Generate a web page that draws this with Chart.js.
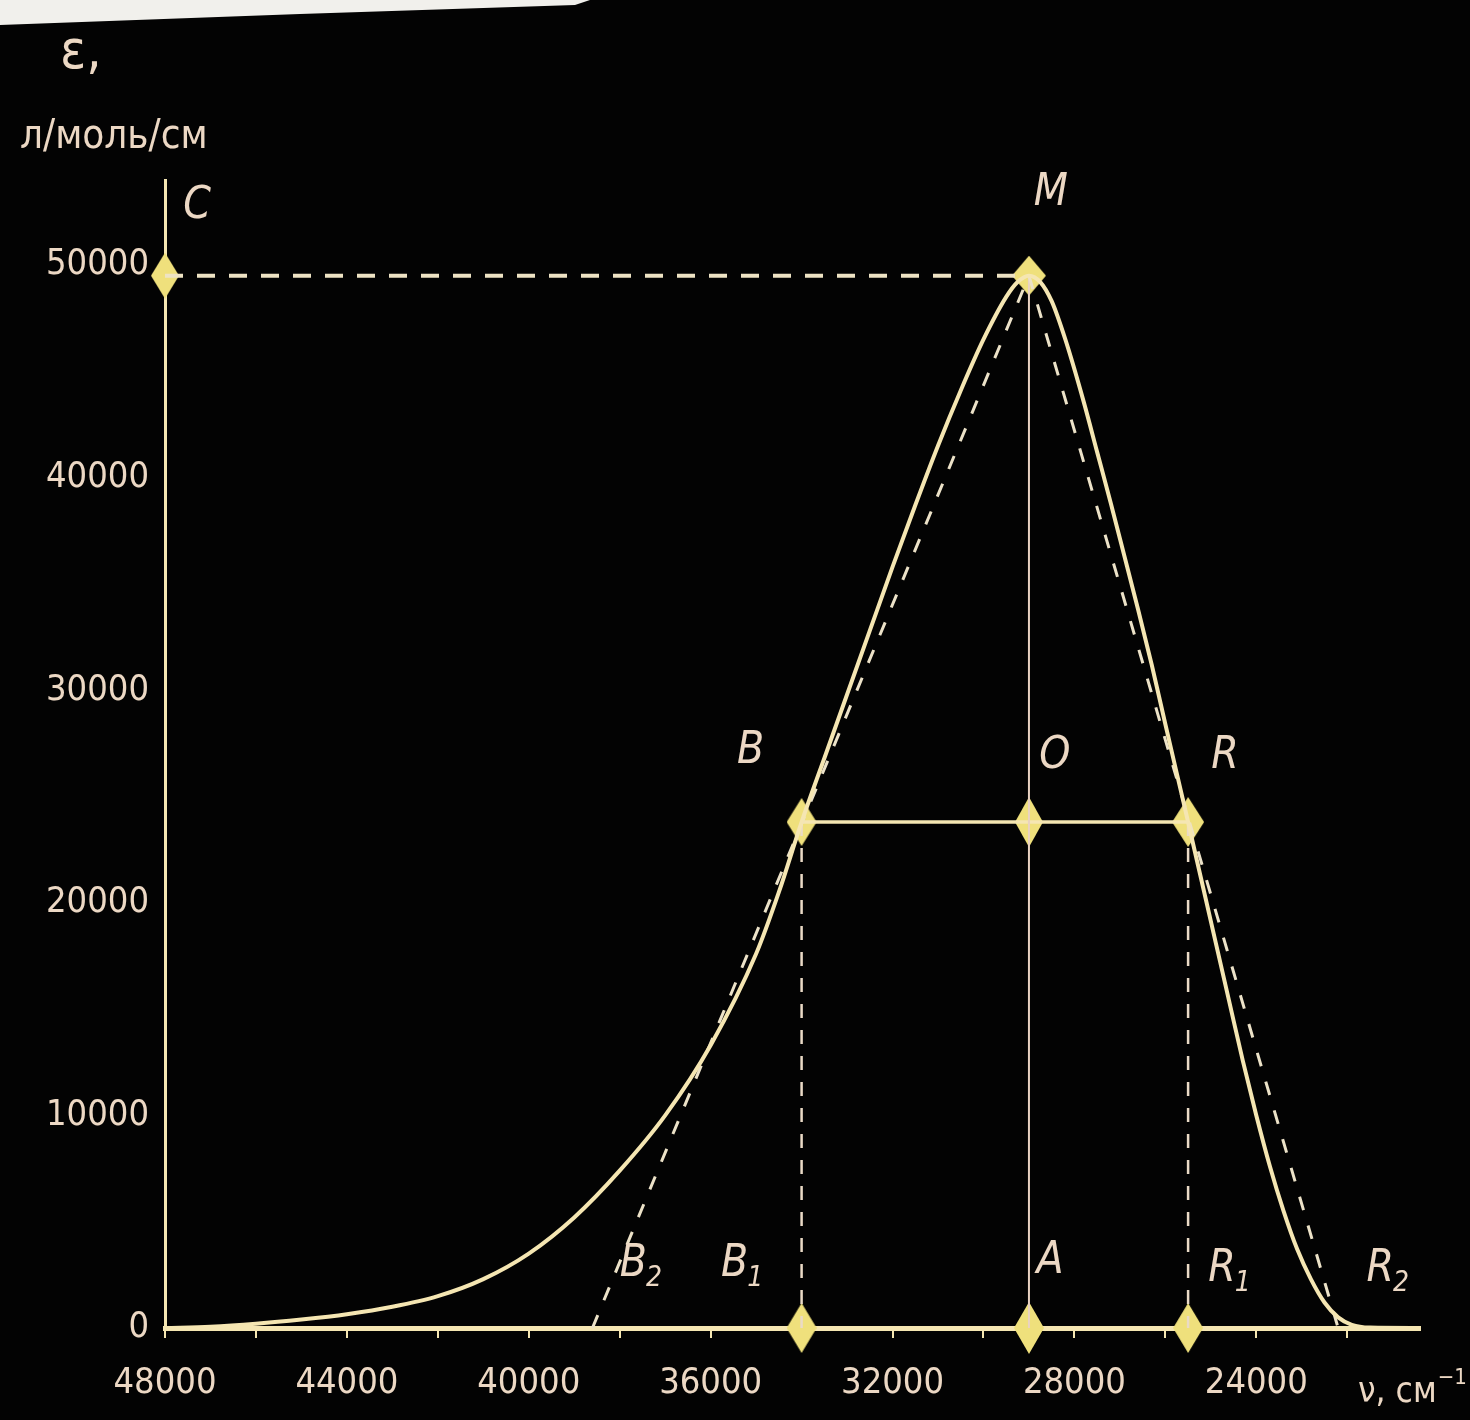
<!DOCTYPE html>
<html><head><meta charset="utf-8">
<script src="https://cdn.jsdelivr.net/npm/chart.js@4.4.1/dist/chart.umd.min.js"></script>
<style>html,body{margin:0;padding:0;background:#030303;}#wrap{width:1470px;height:1420px;}</style>
</head><body><div id="wrap"><canvas id="c" width="1470" height="1420"></canvas></div>
<script>
// ---- data (wavenumber ν, cm^-1 ; molar absorptivity ε, l/mol/cm) ----
const nuSolid  = [48000, 47000, 46000, 45000, 44000, 43000, 42000, 41000, 40000, 39000, 38000, 37000, 36000, 35000, 34500, 34000, 33500, 33000, 32500, 32000, 31500, 31000, 30500, 30000, 29500, 29250, 29000, 28750, 28500, 28200, 27800, 27500, 27200, 26900, 26600, 26300, 26000, 25750, 25500, 25200, 24900, 24600, 24300, 24000, 23700, 23400, 23100, 22800, 22500, 22200, 21900, 21500, 20400];
const epsSolid = [0, 60, 200, 400, 650, 1000, 1500, 2300, 3500, 5200, 7400, 10000, 13300, 17600, 20500, 23800, 26800, 29800, 32800, 35800, 38700, 41500, 44100, 46500, 48500, 49200, 49500, 49200, 48300, 46500, 43600, 41200, 38800, 36300, 33800, 31200, 28400, 26100, 23800, 21000, 18200, 15400, 12600, 10000, 7600, 5500, 3700, 2300, 1200, 500, 150, 20, 0];
const nuTriLeft = [38600, 29000];  const epsTriLeft = [0, 49500];
const nuTriRight = [29000, 22200]; const epsTriRight = [49500, 0];
const nuMaxLine = [48000, 29000];  const epsMaxLine = [49500, 49500];
const nuHalf = [34000, 25500];     const epsHalf = [23800, 23800];
const nuCenter = [29000, 29000];   const epsCenter = [49500, 0];
const nuBdrop = [34000, 34000];    const epsBdrop = [23800, 0];
const nuRdrop = [25500, 25500];    const epsRdrop = [23800, 0];
const pointNames = ['C', 'M', 'B', 'O', 'R', 'B1', 'A', 'R1'];
const pointNu  = [48000, 29000, 34000, 29000, 25500, 34000, 29000, 25500];
const pointEps = [49500, 49500, 23800, 23800, 23800, 0, 0, 0];
const xTickValues = [48000, 46000, 44000, 42000, 40000, 38000, 36000, 34000, 32000, 30000, 28000, 26000, 24000, 22000];
const xTickLabels = [48000, 44000, 40000, 36000, 32000, 28000, 24000];
const yTickLabels = [0, 10000, 20000, 30000, 40000, 50000];

const CREAM = '#f5e6b2', TEXT = '#ecd8c4', DIA = '#efe07c';
const NARROW = '"Liberation Sans Narrow", "DejaVu Sans Condensed", "Roboto Condensed", "Liberation Sans", sans-serif';
const pts = (xs, ys) => xs.map((x, i) => ({x: x, y: ys[i]}));

function rhombus(w, h) {
  const c = document.createElement('canvas'); c.width = w; c.height = h;
  const g = c.getContext('2d');
  g.beginPath(); g.moveTo(w/2, 0); g.lineTo(w, h/2); g.lineTo(w/2, h); g.lineTo(0, h/2); g.closePath();
  g.fillStyle = DIA; g.fill();
  return c;
}
const dSizes = {C:[28,46], M:[34,40], B:[30,48], O:[28,50], R:[32,50], B1:[30,50], A:[30,52], R1:[30,50]};
const pointImgs = pointNames.map(n => rhombus(dSizes[n][0], dSizes[n][1]));

const labelDefs = [
  {t:'C', s:'', nu:pointNu[0], e:pointEps[0], dx:32, dy:-69},
  {t:'M', s:'', nu:pointNu[1], e:pointEps[1], dx:22, dy:-82},
  {t:'B', s:'', nu:pointNu[2], e:pointEps[2], dx:-51, dy:-70},
  {t:'O', s:'', nu:pointNu[3], e:pointEps[3], dx:26, dy:-65},
  {t:'R', s:'', nu:pointNu[4], e:pointEps[4], dx:37, dy:-65},
  {t:'B', s:'2', nu:nuTriLeft[0], e:0, dx:49, dy:-63},
  {t:'B', s:'1', nu:pointNu[5], e:pointEps[5], dx:-59, dy:-63},
  {t:'A', s:'', nu:pointNu[6], e:pointEps[6], dx:21, dy:-66},
  {t:'R', s:'1', nu:pointNu[7], e:pointEps[7], dx:42, dy:-58},
  {t:'R', s:'2', nu:nuTriRight[1], e:0, dx:50, dy:-58}
];

const decor = {
  id: 'decor',
  beforeDraw(chart) {
    const ctx = chart.ctx;
    ctx.save();
    ctx.fillStyle = '#030303'; ctx.fillRect(0, 0, chart.width, chart.height);
    ctx.fillStyle = '#f1f0ec';
    ctx.beginPath(); ctx.moveTo(0,0); ctx.lineTo(590,0); ctx.lineTo(575,5); ctx.lineTo(300,14); ctx.lineTo(0,25); ctx.closePath(); ctx.fill();
    ctx.restore();
  },
  afterDraw(chart) {
    const ctx = chart.ctx, xs = chart.scales.x, ys = chart.scales.y;
    ctx.save();
    ctx.fillStyle = TEXT;
    ctx.textBaseline = 'middle';
    labelDefs.forEach(l => {
      const px = xs.getPixelForValue(l.nu) + l.dx, py = ys.getPixelForValue(l.e) + l.dy;
      ctx.font = 'italic 44px ' + NARROW;
      const w = ctx.measureText(l.t).width;
      let sw = 0;
      if (l.s) { ctx.font = 'italic 28px ' + NARROW; sw = ctx.measureText(l.s).width; }
      const x0 = px - (w + sw) / 2;
      ctx.textAlign = 'left';
      ctx.font = 'italic 44px ' + NARROW;
      ctx.fillText(l.t, x0, py);
      if (l.s) { ctx.font = 'italic 28px ' + NARROW; ctx.fillText(l.s, x0 + w - 1, py + 14); }
    });
    // axis titles
    ctx.textAlign = 'left'; ctx.textBaseline = 'alphabetic';
    ctx.font = '54px ' + NARROW;
    ctx.fillText('ε,', 60, 68);
    ctx.font = '40px ' + NARROW;
    ctx.fillText('л/моль/см', 20, 148);
    ctx.font = '35px ' + NARROW;
    ctx.fillText('ν, см', 1358, 1402);
    const w2 = ctx.measureText('ν, см').width;
    ctx.font = '22px ' + NARROW;
    ctx.fillText('−1', 1358 + w2 + 1, 1384);
    ctx.restore();
  }
};

const lineDs = (data, opt) => Object.assign({type:'line', data: data, borderColor: CREAM, borderWidth: 3, pointRadius: 0, fill: false, tension: 0}, opt);

new Chart(document.getElementById('c'), {
  type: 'scatter',
  data: {
    datasets: [
      lineDs(pts(nuSolid, epsSolid), {borderWidth: 4, cubicInterpolationMode: 'monotone'}),
      lineDs(pts(nuTriLeft, epsTriLeft), {borderDash: [14, 16], borderWidth: 3, borderColor: '#ece2c8'}),
      lineDs(pts(nuTriRight, epsTriRight), {borderDash: [14, 16], borderWidth: 3, borderColor: '#ece2c8'}),
      lineDs(pts(nuMaxLine, epsMaxLine), {borderDash: [18, 14], borderWidth: 4, borderColor: '#eee3c4'}),
      lineDs(pts(nuCenter, epsCenter), {borderWidth: 2, borderColor: '#e9d2c2'}),
      lineDs(pts(nuHalf, epsHalf), {borderWidth: 3.5}),
      lineDs(pts(nuBdrop, epsBdrop), {borderDash: [14, 12], borderWidth: 2.5, borderColor: '#eadac6'}),
      lineDs(pts(nuRdrop, epsRdrop), {borderDash: [14, 12], borderWidth: 2.5, borderColor: '#eadac6'}),
      {type: 'scatter', data: pts(pointNu, pointEps), clip: false,
       pointStyle: c => pointImgs[c.dataIndex] || 'circle', pointRadius: 15, pointHoverRadius: 15,
       backgroundColor: DIA, borderColor: DIA}
    ]
  },
  options: {
    responsive: false, animation: false,
    layout: {padding: {top: 180, right: 50, left: 0, bottom: 0}},
    plugins: {legend: {display: false}, tooltip: {enabled: false}},
    scales: {
      x: {
        type: 'linear', reverse: true, min: 20400, max: 48000,
        afterBuildTicks: s => { s.ticks = xTickValues.map(v => ({value: v})); },
        afterFit: s => { s.height = 92; },
        ticks: {autoSkip: false, maxRotation: 0, minRotation: 0, padding: 24, color: TEXT,
          font: {family: NARROW, size: 36},
          callback: v => xTickLabels.includes(v) ? String(v) : ''},
        grid: {display: true, drawOnChartArea: false, drawTicks: true, tickLength: 10, color: CREAM, lineWidth: 2},
        border: {display: true, color: CREAM, width: 5}
      },
      y: {
        type: 'linear', min: 0, max: 54000,
        afterBuildTicks: s => { s.ticks = yTickLabels.map(v => ({value: v})); },
        afterFit: s => { s.width = 165; },
        ticks: {autoSkip: false, padding: 16, color: TEXT,
          font: {family: NARROW, size: 36}, callback: v => String(v)},
        grid: {display: true, drawOnChartArea: false, drawTicks: false, color: 'rgba(0,0,0,0)'},
        border: {display: true, color: CREAM, width: 3}
      }
    }
  },
  plugins: [decor]
});
</script></body></html>
